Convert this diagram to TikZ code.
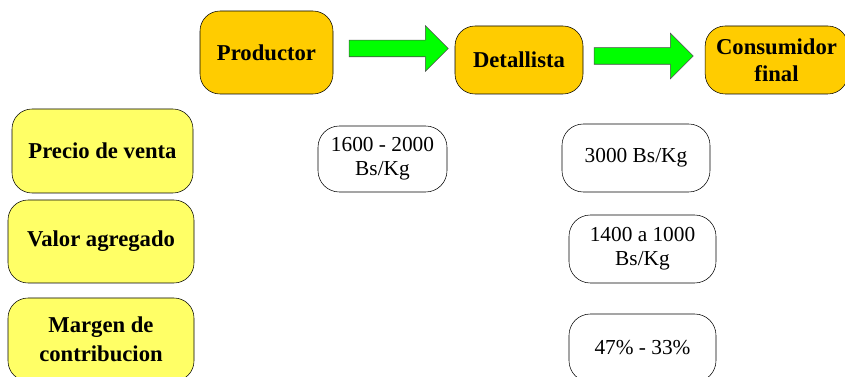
\documentclass[tikz,border=0pt]{standalone}
\usepackage{fontspec}
\setmainfont{Liberation Serif}
\usetikzlibrary{shapes.arrows,positioning}
\definecolor{naranja}{HTML}{FFCC00}
\definecolor{amarillo}{HTML}{FFFF66}
\definecolor{verde}{HTML}{00FF00}
\tikzset{
myEtapa/.style={
	rectangle,rounded corners=15pt,draw=black,fill=naranja,
	inner sep=0pt,align=center,
	font=\fontsize{17}{20.5}\selectfont\bfseries
}
, myRubro/.style={
	rectangle,rounded corners=15pt,draw=black,fill=amarillo,
	inner sep=0pt,align=center,minimum width=139.5pt,minimum height=62.25pt,
	font=\fontsize{17}{21.5}\selectfont\bfseries
}
, myDato/.style={
	rectangle,rounded corners=16pt,draw=black,fill=white,
	inner sep=0pt,align=center,
	font=\fontsize{16}{18}\selectfont
}
% flechas
, myFlecha/.style={
	single arrow,draw=black!70,fill=verde,
	inner xsep=0pt,inner ysep=6pt,
	single arrow head extend=10.9pt,
	minimum height=74.25pt,minimum width=33.75pt
}
}
\begin{document}
\begin{tikzpicture}[x=0.75pt,y=-0.75pt]
	\useasboundingbox (0,0) rectangle (845,377);
	\clip (0,0) rectangle (845,377);
	% etapas
	\node[myEtapa,minimum width=99.75pt,minimum height=62.25pt] (Productor) at (266.5,52.5) {Productor};
	\node[myEtapa,minimum width=96pt,minimum height=51pt] (Detallista) at (519,60) {Detallista};
	\node[myEtapa,minimum width=107pt,minimum height=51pt] (Consumidor) at (776.5,60) {Consumidor\\final};
	% flechas
	\node[myFlecha] (FlechaA) at (394.5,48.5) {};
	\node[myFlecha] (FlechaB) at (639.5,56) {};
	% rubros
	\node[myRubro,minimum width=135.75pt,minimum height=63pt] (Precio) at (102.5,151) {Precio de venta};
	\node[myRubro] (Valor) at (101,241.5) {Valor agregado};
	\node[myRubro] (Margen) at (101,339.5) {Margen de\\contribucion};
	% datos
	\node[myDato,minimum width=96.75pt,minimum height=49.5pt] (PrecioProd) at (382.5,159) {1600 - 2000\\Bs/Kg};
	\node[myDato,minimum width=111pt,minimum height=51pt] (PrecioDet) at (636,158) {3000 Bs/Kg};
	\node[myDato,minimum width=110.25pt,minimum height=51pt] (ValorDet) at (642.5,249) {1400 a 1000\\Bs/Kg};
	\node[myDato,minimum width=110.25pt,minimum height=51pt] (MargenDet) at (642.5,348) {47\% - 33\%};
\end{tikzpicture}
\end{document}
